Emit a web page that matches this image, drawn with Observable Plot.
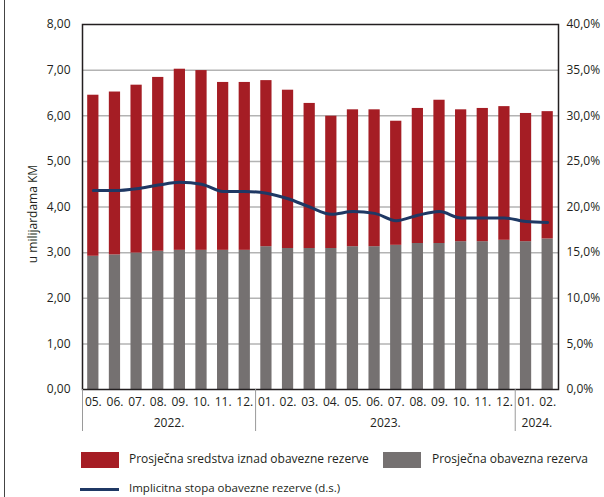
<!DOCTYPE html>
<html>
<head>
<meta charset="utf-8">
<script src="https://cdn.jsdelivr.net/npm/d3@7"></script>
<script src="https://cdn.jsdelivr.net/npm/@observablehq/plot@0.6"></script>
<style>
  body { margin: 0; background: #fff; font-family: "Open Sans", sans-serif; color: #231f20; }
  #wrap { position: relative; width: 604px; height: 497px; overflow: hidden; }
  #chart { position: absolute; left: 0; top: 0; }
  .lg { position: absolute; font-size: 12px; line-height: 16px; white-space: nowrap; }
  .sw { position: absolute; }
</style>
</head>
<body>
<div id="wrap">
  <div id="chart"></div>
  <div style="position:absolute;left:4px;top:0;width:1px;height:497px;background:#444"></div>
  <div class="lg" style="left:33px;top:214px;transform:translate(-50%,-50%) rotate(-90deg);">u milijardama KM</div>
  <div class="sw" style="left:81px;top:452px;width:38px;height:16px;background:#a51d24"></div>
  <div class="lg" style="left:129px;top:451px;">Prosječna sredstva iznad obavezne rezerve</div>
  <div class="sw" style="left:383px;top:452px;width:38px;height:16px;background:#757171"></div>
  <div class="lg" style="left:432px;top:451px;">Prosječna obavezna rezerva</div>
  <div class="sw" style="left:80px;top:488px;width:39px;height:3px;background:#1f3864"></div>
  <div class="lg" style="left:129px;top:480px;line-height:15px;font-size:11.5px;">Implicitna stopa obavezne rezerve (d.s.)</div>
</div>
<script>
const months = ["05.","06.","07.","08.","09.","10.","11.","12.","01.","02.","03.","04.","05.","06.","07.","08.","09.","10.","11.","12.","01.","02."];
const reserve = [2.92,2.95,2.99,3.03,3.05,3.05,3.05,3.05,3.13,3.09,3.09,3.09,3.13,3.13,3.16,3.20,3.20,3.24,3.24,3.27,3.24,3.30];
const excess  = [3.53,3.57,3.68,3.81,3.97,3.94,3.68,3.68,3.64,3.47,3.18,2.90,3.00,3.00,2.72,2.96,3.14,2.89,2.92,2.93,2.81,2.79];
const rate    = [21.8,21.8,22.0,22.4,22.7,22.5,21.7,21.7,21.5,20.9,20.0,19.2,19.5,19.3,18.5,19.1,19.5,18.8,18.8,18.8,18.4,18.3];
const years = ["2022.","2023.","2024."];
const yearCounts = [8,12,2];
const yTicks = [0,1,2,3,4,5,6,7,8];
const rateTicks = [0,5,10,15,20,25,30,35,40];
const rateMax = 40, valueMax = 8;

const data = months.map((m, i) => ({i, month: m, reserve: reserve[i], excess: excess[i], rate: rate[i]}));
let start = 0;
const yearData = years.map((y, k) => { const d = {label: y, start, end: start + yearCounts[k]}; start += yearCounts[k]; return d; });
const ratio = valueMax / rateMax;
const fmtL = d => d.toFixed(2).replace(".", ",");
const fmtR = d => (d / ratio).toFixed(1).replace(".", ",") + "%";

const plot = Plot.plot({
  width: 604,
  height: 440,
  marginLeft: 82,
  marginRight: 46,
  marginTop: 24,
  marginBottom: 51,
  style: {fontFamily: "Open Sans, sans-serif", fontSize: "12px", color: "#231f20", background: "transparent", overflow: "visible"},
  x: {type: "linear", domain: [0, months.length], axis: null},
  y: {domain: [0, valueMax], axis: null},
  marks: [
    Plot.ruleY(yTicks.slice(1, -1), {stroke: "#b3b3b3", strokeWidth: 1.5}),
    Plot.rectY(data, {x1: "i", x2: d => d.i + 1, y1: 0, y2: "reserve", fill: "#757171", insetLeft: 5.2, insetRight: 5.2}),
    Plot.rectY(data, {x1: "i", x2: d => d.i + 1, y1: "reserve", y2: d => d.reserve + d.excess, fill: "#a51d24", insetLeft: 5.2, insetRight: 5.2}),
    Plot.lineY(data, {x: d => d.i + 0.5, y: d => d.rate * ratio, stroke: "#1f3864", strokeWidth: 3, curve: "monotone-x"}),
    Plot.frame({stroke: "#231f20", strokeWidth: 1.5}),
    Plot.axisY(yTicks, {anchor: "left", tickSize: 0, tickPadding: 12, tickFormat: fmtL, label: null, fontSize: 12}),
    Plot.axisY(rateTicks.map(d => d * ratio), {anchor: "right", tickSize: 0, tickPadding: 8, tickFormat: fmtR, label: null, fontSize: 12}),
    Plot.axisX(yearData.map(d => d.start), {anchor: "bottom", tickSize: 42, tickFormat: () => "", stroke: "#9a9a9a", label: null}),
    Plot.text(data, {x: d => d.i + 0.5, y: 0, dy: 13, text: "month", fontSize: 12, fill: "#231f20"}),
    Plot.text(yearData, {x: d => (d.start + d.end) / 2, y: 0, dy: 34, text: "label", fontSize: 12, fill: "#231f20"})
  ]
});
document.getElementById("chart").appendChild(plot);
</script>
</body>
</html>
